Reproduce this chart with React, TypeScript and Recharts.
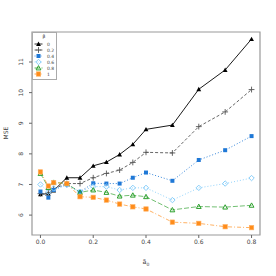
import React from 'react';
import { LineChart, Line, XAxis, YAxis, ReferenceArea } from 'recharts';

const xValues = [0, 0.03, 0.05, 0.1, 0.15, 0.2, 0.25, 0.3, 0.35, 0.4, 0.5, 0.6, 0.7, 0.8];
const beta0 = [6.68, 6.7, 6.8, 7.22, 7.22, 7.61, 7.73, 7.98, 8.31, 8.8, 8.94, 10.11, 10.74, 11.75];
const beta02 = [6.7, 6.72, 6.86, 7.03, 7.03, 7.22, 7.36, 7.47, 7.72, 8.05, 8.03, 8.89, 9.37, 10.1];
const beta04 = [6.77, 6.57, 6.82, 7.0, 6.76, 7.04, 7.03, 7.03, 7.22, 7.39, 7.12, 7.8, 8.12, 8.58];
const beta06 = [7.0, 6.76, 6.87, 6.98, 6.76, 6.93, 6.93, 6.82, 6.89, 6.89, 6.49, 6.89, 7.03, 7.21];
const beta08 = [7.36, 6.9, 7.07, 7.03, 6.74, 6.82, 6.74, 6.62, 6.65, 6.6, 6.17, 6.28, 6.26, 6.32];
const beta1 = [7.41, 6.95, 7.06, 7.03, 6.6, 6.58, 6.49, 6.36, 6.27, 6.2, 5.77, 5.73, 5.62, 5.59];
const seriesNames = ['0', '0.2', '0.4', '0.6', '0.8', '1'];
const xTicks = [0, 0.2, 0.4, 0.6, 0.8];
const yTicks = [6, 7, 8, 9, 10, 11];

const data = xValues.map((x, i) => ({
  x,
  s0: beta0[i],
  s1: beta02[i],
  s2: beta04[i],
  s3: beta06[i],
  s4: beta08[i],
  s5: beta1[i],
}));

const styles = [
  { key: 's0', color: '#000000', dash: undefined, shape: 'triFilled' },
  { key: 's1', color: '#555555', dash: '3 2', shape: 'plus' },
  { key: 's2', color: '#1f78d6', dash: '1 2', shape: 'square' },
  { key: 's3', color: '#87cefa', dash: '1 2', shape: 'diamond' },
  { key: 's4', color: '#2ca02c', dash: '5 2', shape: 'triOpen' },
  { key: 's5', color: '#ff8c1a', dash: '4 2 1 2', shape: 'squareOrange' },
];

function Marker({ cx, cy, shape, color }: any) {
  if (cx == null || cy == null) return null;
  const s = 2.4;
  switch (shape) {
    case 'triFilled':
      return <polygon points={`${cx},${cy - s} ${cx - s},${cy + s * 0.8} ${cx + s},${cy + s * 0.8}`} fill={color} />;
    case 'plus':
      return (
        <g stroke={color} strokeWidth={0.9}>
          <line x1={cx - s - 0.5} y1={cy} x2={cx + s + 0.5} y2={cy} />
          <line x1={cx} y1={cy - s - 0.5} x2={cx} y2={cy + s + 0.5} />
        </g>
      );
    case 'square':
      return <rect x={cx - 2} y={cy - 2} width={4} height={4} fill={color} />;
    case 'diamond':
      return <polygon points={`${cx},${cy - s - 0.3} ${cx + s + 0.3},${cy} ${cx},${cy + s + 0.3} ${cx - s - 0.3},${cy}`} fill="none" stroke={color} strokeWidth={1} />;
    case 'triOpen':
      return <polygon points={`${cx},${cy - s} ${cx - s},${cy + s * 0.8} ${cx + s},${cy + s * 0.8}`} fill="none" stroke={color} strokeWidth={1} />;
    case 'squareOrange':
      return <rect x={cx - 2.2} y={cy - 2.2} width={4.4} height={4.4} fill={color} stroke="#ffb060" strokeWidth={0.6} />;
    default:
      return null;
  }
}

function LegendBox() {
  return (
    <div style={{ position: 'absolute', left: 32, top: 32, width: 25, height: 48, border: '1.5px solid #aaa', boxSizing: 'border-box', background: '#fff' }}>
      <svg width={23} height={45} style={{ display: 'block' }}>
        <text x={11} y={5} fontSize={4.5} fill="#444" textAnchor="middle" fontFamily="DejaVu Sans, sans-serif">β</text>
        {styles.map((st, i) => {
          const y = 11 + i * 6;
          return (
            <g key={st.key}>
              <line x1={1.5} x2={9.5} y1={y} y2={y} stroke={st.color} strokeWidth={0.8} strokeDasharray={st.dash} />
              <Marker cx={5.5} cy={y} shape={st.shape} color={st.color} />
              <text x={14} y={y + 1.6} fontSize={4.5} fill="#444" fontFamily="DejaVu Sans, sans-serif">{seriesNames[i]}</text>
            </g>
          );
        })}
      </svg>
    </div>
  );
}

const tickStyle = { fontSize: 6, fill: '#444', fontFamily: 'DejaVu Sans, sans-serif' };

function YTick({ x, y, payload }: any) {
  return (
    <text x={x - 4} y={y} fontSize={6} fill="#444" fontFamily="DejaVu Sans, sans-serif" textAnchor="middle" transform={`rotate(-90 ${x - 4} ${y})`}>
      {payload.value}
    </text>
  );
}

export default function App() {
  return (
    <div style={{ position: 'absolute', left: 0, top: 0, width: 276, height: 276, background: '#fff' }}>
      <LineChart width={276} height={276} data={data} margin={{ top: 32, right: 16, bottom: 16, left: 8 }}>
        <ReferenceArea x1={-0.032} x2={0.832} y1={5.35} y2={11.98} fill="none" stroke="#999" strokeWidth={1.2} ifOverflow="visible" />
        <XAxis
          dataKey="x"
          type="number"
          domain={[-0.032, 0.832]}
          ticks={xTicks}
          tickFormatter={(v: number) => v.toFixed(1)}
          tick={tickStyle}
          tickSize={3}
          axisLine={false}
          tickLine={{ stroke: '#666' }}
          height={25}
          allowDataOverflow
        />
        <YAxis
          type="number"
          domain={[5.35, 11.98]}
          ticks={yTicks}
          tick={<YTick />}
          tickSize={3}
          axisLine={false}
          tickLine={{ stroke: '#666' }}
          width={24}
          allowDataOverflow
        />
        {styles.map((st) => (
          <Line
            key={st.key}
            dataKey={st.key}
            stroke={st.color}
            strokeWidth={0.9}
            strokeDasharray={st.dash}
            strokeOpacity={st.key === 's4' || st.key === 's5' ? 0.75 : 1}
            dot={(p: any) => <Marker key={`${st.key}-${p.index}`} cx={p.cx} cy={p.cy} shape={st.shape} color={st.color} />}
            activeDot={false}
            isAnimationActive={false}
          />
        ))}
        <text x={8} y={133} fontSize={6} fill="#444" fontFamily="DejaVu Sans, sans-serif" textAnchor="middle" transform="rotate(-90 8 133)">MSE</text>
        <text x={146} y={264} fontSize={6.5} fill="#444" fontFamily="DejaVu Sans, sans-serif" textAnchor="middle">
          ã<tspan fontSize={4.5} dy={1.5}>0</tspan>
        </text>
      </LineChart>
      <LegendBox />
    </div>
  );
}
